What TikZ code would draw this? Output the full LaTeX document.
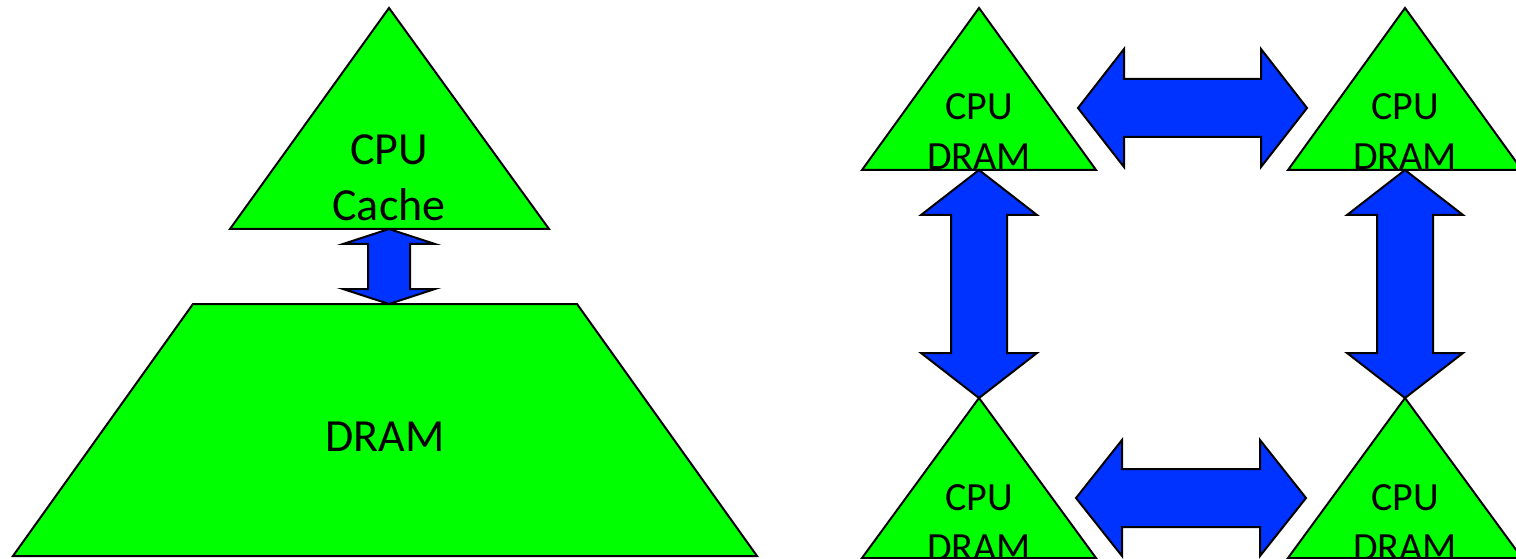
\documentclass[tikz,border=0pt]{standalone}
\usepackage{fontspec}
\setmainfont{Carlito}
\usetikzlibrary{calc}

\definecolor{chipgreen}{RGB}{0,255,0}
\definecolor{linkblue}{RGB}{0,51,255}

% double-headed block arrow, vertical: top tip, bottom tip, head half-width, shaft half-width, head length
\newcommand\vlink[5]{%
  \draw[link] (#1) -- ($(#1)+(#3,#5)$) -- ($(#1)+(#4,#5)$) -- ($(#2)+(#4,-#5)$)
    -- ($(#2)+(#3,-#5)$) -- (#2) -- ($(#2)+(-#3,-#5)$) -- ($(#2)+(-#4,-#5)$)
    -- ($(#1)+(-#4,#5)$) -- ($(#1)+(-#3,#5)$) -- cycle;}
% double-headed block arrow, horizontal: left tip, right tip, head half-height, shaft half-height, head length
\newcommand\hlink[5]{%
  \draw[link] (#1) -- ($(#1)+(#5,-#3)$) -- ($(#1)+(#5,-#4)$) -- ($(#2)+(-#5,-#4)$)
    -- ($(#2)+(-#5,-#3)$) -- (#2) -- ($(#2)+(-#5,#3)$) -- ($(#2)+(-#5,#4)$)
    -- ($(#1)+(#5,#4)$) -- ($(#1)+(#5,#3)$) -- cycle;}

\begin{document}
\begin{tikzpicture}[x=1bp,y=-1bp,line width=2bp,line join=miter,
  chip/.style={draw=black,fill=chipgreen},
  link/.style={draw=black,fill=linkblue},
  bigtext/.style={font=\fontsize{46bp}{55bp}\selectfont,anchor=base,inner sep=0pt},
  smalltext/.style={font=\fontsize{40bp}{50bp}\selectfont,anchor=base,inner sep=0pt}]
\useasboundingbox (0,0) rectangle (1516,559);
\clip (0,0) rectangle (1516,559);

% ---- single node: CPU/cache on top of DRAM ----
\coordinate (cache-apex) at (389,8);
\coordinate (cache-base) at (389,229);
\coordinate (dram-top) at (389,304);
\draw[chip] (cache-apex) -- (549,229) -- (230,229) -- cycle;
\draw[chip] (193,304) -- (577,304) -- (757,556) -- (13,556) -- cycle;
\vlink{cache-base}{dram-top}{46}{21}{15}
\node[bigtext] (cpu-l) at (389,165) {CPU};
\node[bigtext] (cache-l) at (389,221) {Cache};
\node[bigtext] (dram-l) at (385,451) {DRAM};

% ---- four connected CPU/DRAM nodes ----
\coordinate (tl-apex) at (979,8);    \coordinate (tl-base) at (979,170);
\coordinate (tr-apex) at (1405,8);   \coordinate (tr-base) at (1405,170);
\coordinate (bl-apex) at (979,398);  \coordinate (bl-base) at (979,558);
\coordinate (br-apex) at (1405,398); \coordinate (br-base) at (1405,558);

\draw[chip] (tl-apex) -- ($(tl-base)+(117,0)$) -- ($(tl-base)+(-117,0)$) -- cycle;
\draw[chip] (tr-apex) -- ($(tr-base)+(117,0)$) -- ($(tr-base)+(-117,0)$) -- cycle;
\draw[chip] (bl-apex) -- ($(bl-base)+(117,0)$) -- ($(bl-base)+(-117,0)$) -- cycle;
\draw[chip] (br-apex) -- ($(br-base)+(117,0)$) -- ($(br-base)+(-117,0)$) -- cycle;

\coordinate (top-l) at (1078,108);  \coordinate (top-r) at (1307,108);
\coordinate (bot-l) at (1076,498);  \coordinate (bot-r) at (1306,498);
\hlink{top-l}{top-r}{59}{29}{46}
\hlink{bot-l}{bot-r}{58}{29}{46}
\vlink{tl-base}{bl-apex}{58}{28}{45}
\vlink{tr-base}{br-apex}{58}{28}{45}

\foreach \n/\x/\y in {tl/979/120, tr/1405/120, bl/979/510, br/1405/510}{
  \node[smalltext] (\n-cpu) at (\x,\y) {CPU};
  \node[smalltext] (\n-dram) at (\x,\y+50) {DRAM};
}
\end{tikzpicture}
\end{document}
